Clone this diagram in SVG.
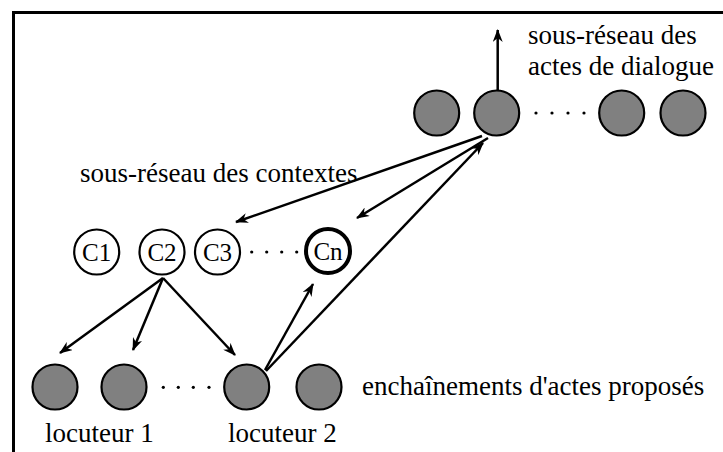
<svg xmlns="http://www.w3.org/2000/svg" width="723" height="452" viewBox="0 0 723 452">
<style>
  .t { font-family: "Liberation Serif", "Times New Roman", serif; font-size: 27px; fill: #000; }
  .c { font-family: "Liberation Serif", "Times New Roman", serif; font-size: 25px; fill: #000; text-anchor: middle; }
  .g { fill: #808080; stroke: #000; stroke-width: 2.2; }
  .w { fill: #fff; stroke: #000; stroke-width: 2.2; }
  .dot { fill: #000; }
  .e { stroke: #000; stroke-width: 2.5; fill: none; marker-end: url(#ah); }
</style>
<defs>
  <marker id="ah" markerUnits="userSpaceOnUse" markerWidth="13" markerHeight="10" viewBox="0 0 13 10" refX="12" refY="5" orient="auto">
    <path d="M0,0 L13,5 L0,10 L4,5 z" fill="#000"/>
  </marker>
</defs>
<rect width="723" height="452" fill="#fff"/>
<g id="frame" stroke="#000" stroke-width="3" fill="none">
  <path d="M13.5,452 L13.5,12.5 L723,12.5"/>
</g>

<g id="connectors">
  <line class="e" x1="497.7" y1="90" x2="497.7" y2="30"/>
  <line class="e" x1="482" y1="136" x2="236" y2="222"/>
  <line class="e" x1="488" y1="138" x2="357" y2="218"/>
  <line class="e" x1="163" y1="278" x2="60" y2="353"/>
  <line class="e" x1="163" y1="278" x2="133" y2="350"/>
  <line class="e" x1="163" y1="278" x2="235" y2="355"/>
  <line class="e" x1="265" y1="370" x2="313" y2="284"/>
  <line class="e" x1="266" y1="371" x2="483" y2="143"/>
</g>

<g id="dialogue-acts">
  <circle id="da1" class="g" cx="436.7" cy="113" r="22.5"/>
  <circle id="da2" class="g" cx="496.7" cy="113" r="22.5"/>
  <g id="da-dots">
    <circle class="dot" cx="536" cy="113" r="1.6"/>
    <circle class="dot" cx="552" cy="113" r="1.6"/>
    <circle class="dot" cx="568" cy="113" r="1.6"/>
    <circle class="dot" cx="584" cy="113" r="1.6"/>
  </g>
  <circle id="da3" class="g" cx="621.7" cy="113" r="22.5"/>
  <circle id="da4" class="g" cx="683" cy="113" r="22.5"/>
</g>

<g id="contexts">
  <g id="C1"><circle class="w" cx="96.7" cy="252" r="22.5"/><text class="c" x="96.7" y="261">C1</text></g>
  <g id="C2"><circle class="w" cx="162" cy="252" r="22.5"/><text class="c" x="162" y="261">C2</text></g>
  <g id="C3"><circle class="w" cx="217.5" cy="252" r="22.5"/><text class="c" x="217.5" y="261">C3</text></g>
  <g id="c-dots">
    <circle class="dot" cx="251.7" cy="252" r="1.6"/>
    <circle class="dot" cx="266.7" cy="252" r="1.6"/>
    <circle class="dot" cx="281.7" cy="252" r="1.6"/>
    <circle class="dot" cx="296.7" cy="252" r="1.6"/>
  </g>
  <g id="Cn"><circle cx="328" cy="251" r="22" fill="#fff" stroke="#000" stroke-width="4"/><text class="c" x="328" y="260">Cn</text></g>
</g>

<g id="sequences">
  <circle id="s1" class="g" cx="55" cy="387" r="22.5"/>
  <circle id="s2" class="g" cx="124" cy="387" r="22.5"/>
  <g id="s-dots">
    <circle class="dot" cx="163.3" cy="387.3" r="1.6"/>
    <circle class="dot" cx="178.3" cy="387.3" r="1.6"/>
    <circle class="dot" cx="193.3" cy="387.3" r="1.6"/>
    <circle class="dot" cx="209" cy="387.3" r="1.6"/>
  </g>
  <circle id="s3" class="g" cx="246.7" cy="387" r="22.5"/>
  <circle id="s4" class="g" cx="319" cy="387" r="22.5"/>
</g>

<g id="labels">
  <text class="t" x="528" y="44">sous-réseau des</text>
  <text class="t" x="528" y="75">actes de dialogue</text>
  <text class="t" x="80" y="182">sous-réseau des contextes</text>
  <text class="t" x="362" y="395">enchaînements d'actes proposés</text>
  <text class="t" x="45" y="442">locuteur 1</text>
  <text class="t" x="228" y="442">locuteur 2</text>
</g>
</svg>
